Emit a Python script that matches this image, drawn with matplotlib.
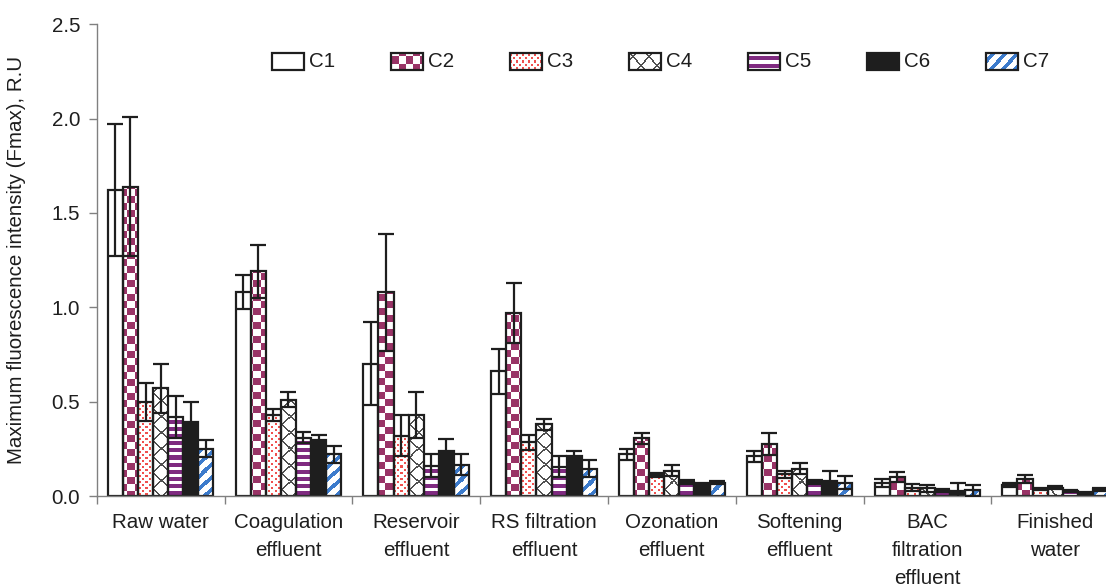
import numpy as np
import matplotlib
matplotlib.use("Agg")
from matplotlib import pyplot as plt
from matplotlib.colors import to_rgb
from matplotlib.patches import Rectangle

plt.rcParams['font.family'] = ['Liberation Sans', 'DejaVu Sans']

stages = ['Raw water', 'Coagulation\neffluent', 'Reservoir\neffluent',
          'RS filtration\neffluent', 'Ozonation\neffluent', 'Softening\neffluent',
          'BAC\nfiltration\neffluent', 'Finished\nwater']
components = ['C1', 'C2', 'C3', 'C4', 'C5', 'C6', 'C7']

# Fmax per treatment stage, mean and standard deviation
c1 = [1.62, 1.08, 0.70, 0.66, 0.22, 0.21, 0.07, 0.06]
c1_sd = [0.35, 0.09, 0.22, 0.12, 0.03, 0.03, 0.02, 0.01]
c2 = [1.64, 1.19, 1.08, 0.97, 0.305, 0.275, 0.10, 0.09]
c2_sd = [0.37, 0.14, 0.31, 0.16, 0.03, 0.06, 0.025, 0.02]
c3 = [0.50, 0.43, 0.32, 0.285, 0.11, 0.115, 0.043, 0.035]
c3_sd = [0.10, 0.03, 0.11, 0.04, 0.01, 0.02, 0.018, 0.005]
c4 = [0.57, 0.51, 0.43, 0.38, 0.135, 0.145, 0.04, 0.045]
c4_sd = [0.13, 0.04, 0.12, 0.03, 0.03, 0.03, 0.02, 0.008]
c5 = [0.42, 0.31, 0.16, 0.155, 0.075, 0.075, 0.027, 0.025]
c5_sd = [0.11, 0.03, 0.06, 0.055, 0.01, 0.01, 0.008, 0.005]
c6 = [0.39, 0.295, 0.24, 0.21, 0.064, 0.08, 0.025, 0.018]
c6_sd = [0.11, 0.03, 0.06, 0.03, 0.005, 0.055, 0.045, 0.005]
c7 = [0.25, 0.22, 0.165, 0.145, 0.071, 0.07, 0.03, 0.035]
c7_sd = [0.045, 0.045, 0.055, 0.045, 0.01, 0.035, 0.03, 0.008]

means = [c1, c2, c3, c4, c5, c6, c7]
sds = [c1_sd, c2_sd, c3_sd, c4_sd, c5_sd, c6_sd, c7_sd]
fills = ['open', 'checker', 'dots', 'diamond', 'hstripe', 'solid', 'diag']

PURPLE = '#993366'
VIOLET = '#7f2a80'
RED = '#f0504e'
BLUE = '#3c7bcc'
INK = '#1e1e1e'

W, H = 1106, 586
fig = plt.figure(figsize=(W / 100, H / 100), dpi=100)
ax = fig.add_axes([96.7 / W, 90 / H, 1022.4 / W, 471.7 / H])
ax.set_xlim(-0.5, len(stages) - 0.5)
ax.set_ylim(0, 2.5)


def pattern(kind, w, h, col0, row0):
    # pixel-level fill, aligned to the figure pixel grid
    X, Y = np.meshgrid(np.arange(w) + col0, np.arange(h) + row0)
    img = np.ones((h, w, 3))
    if kind == 'checker':
        img[(X // 7 + Y // 7) % 2 == 0] = to_rgb(PURPLE)
    elif kind == 'dots':
        a = (X % 6 < 2) & (Y % 6 < 2)
        b = ((X + 3) % 6 < 2) & ((Y + 3) % 6 < 2)
        img[a | b] = to_rgb(RED)
    elif kind == 'diamond':
        img[((X + Y) % 16 < 2) | ((X - Y) % 16 < 2)] = to_rgb('#505050')
    elif kind == 'hstripe':
        img[Y % 7 < 4] = to_rgb(VIOLET)
    elif kind == 'solid':
        img[:] = to_rgb(INK)
    elif kind == 'diag':
        img[(X + Y) % 12 < 5] = to_rgb(BLUE)
    return img


def fill_box(x0, x1, y0, y1, kind, trans):
    (px0, py0), (px1, py1) = trans.transform([(x0, y0), (x1, y1)])
    w = max(int(round(px1 - px0)), 1)
    h = max(int(round(py1 - py0)), 1)
    img = pattern(kind, w, h, int(px0), int(H - py1))
    ax.imshow(img, extent=(x0, x1, y0, y1), transform=trans, aspect='auto',
              interpolation='nearest', zorder=1.5)


x = np.arange(len(stages))
bw = 0.118
for j, (vals, err, kind) in enumerate(zip(means, sds, fills)):
    pos = x + (j - 3) * bw
    bars = ax.bar(pos, vals, bw, facecolor='none', edgecolor=INK, linewidth=1.6, zorder=2)
    for r in bars:
        fill_box(r.get_x(), r.get_x() + r.get_width(), 0, r.get_height(), kind, ax.transData)
    ax.errorbar(pos, vals, yerr=err, fmt='none', ecolor=INK, elinewidth=1.6,
                capsize=5.8, capthick=1.6, zorder=3)

# legend row along the top
for j, (name, kind) in enumerate(zip(components, fills)):
    lx = 0.1715 + j * 0.1164
    fill_box(lx, lx + 0.031, 0.903, 0.940, kind, ax.transAxes)
    ax.add_patch(Rectangle((lx, 0.903), 0.031, 0.037, transform=ax.transAxes,
                           fill=False, edgecolor=INK, linewidth=1.6, zorder=2))
    ax.text(lx + 0.036, 0.921, name, transform=ax.transAxes, fontsize=14.8,
            va='center', ha='left', color=INK)

for s in ['top', 'right']:
    ax.spines[s].set_visible(False)
for s in ['left', 'bottom']:
    ax.spines[s].set_color('#808080')
    ax.spines[s].set_linewidth(1)

ax.set_yticks(np.arange(0, 2.51, 0.5))
ax.set_yticklabels([f'{v:.1f}' for v in np.arange(0, 2.51, 0.5)])
ax.tick_params(axis='y', direction='out', length=6, width=1, color='#808080',
               labelsize=14.8, pad=6, labelcolor=INK)

ax.set_xticks(x)
ax.set_xticklabels(stages, linespacing=1.6)
ax.set_xticks(np.arange(-0.5, len(stages)), minor=True)
ax.tick_params(axis='x', which='major', length=0, labelsize=14.8, pad=12, labelcolor=INK)
ax.tick_params(axis='x', which='minor', direction='out', length=6, width=1, color='#808080')

ax.set_ylabel('Maximum fluorescence intensity (Fmax), R.U', fontsize=14.8, labelpad=18, color=INK)

fig.savefig('out.png', dpi=100)
